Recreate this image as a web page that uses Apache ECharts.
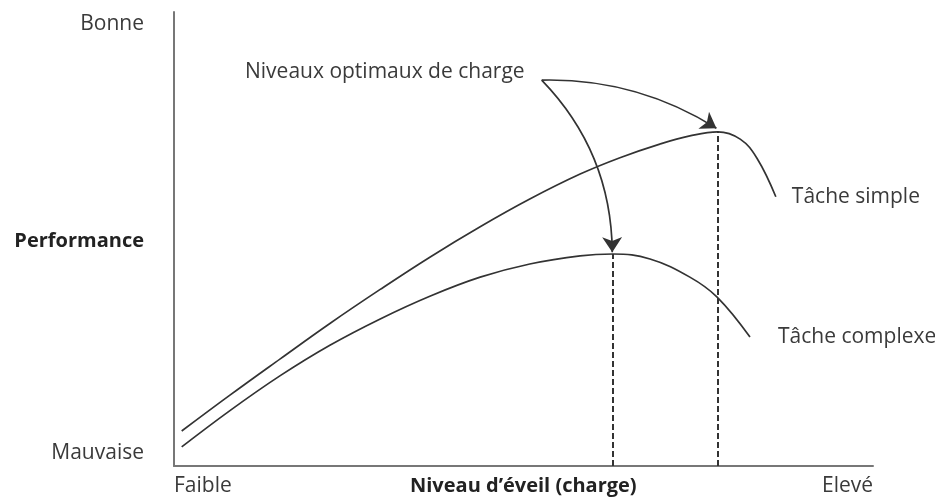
<!DOCTYPE html>
<html>
<head>
<meta charset="utf-8">
<script src="https://cdn.jsdelivr.net/npm/echarts@6/dist/echarts.min.js"></script>
<style>
  html, body { margin: 0; padding: 0; background: #fff; }
  #chart { width: 935px; height: 497px; }
</style>
</head>
<body>
<div id="chart"></div>
<script>
// courbes (x = niveau d'éveil 0-100, y = performance 0-100)
const simpleX = [1.1, 8.0, 15.2, 22.3, 29.5, 36.6, 43.8, 50.9, 58.1, 63.8, 69.5, 73.8, 77.8, 81.0, 83.4, 86.1];
const simpleY = [7.7, 15.6, 23.6, 31.4, 38.9, 46.0, 52.7, 58.8, 64.3, 67.9, 70.9, 72.7, 73.6, 72.0, 67.8, 59.3];
const complexX = [1.1, 8.0, 15.2, 22.3, 29.5, 36.6, 43.8, 50.9, 58.1, 62.8, 68.1, 73.8, 77.7, 82.4];
const complexY = [4.2, 12.2, 19.9, 26.6, 32.4, 37.4, 41.6, 44.5, 46.3, 46.7, 45.6, 41.6, 37.2, 28.4];

const seriesNames = ['Tâche simple', 'Tâche complexe'];
const yLabels = ['Bonne', 'Performance', 'Mauvaise'];
const xLabels = ['Faible', 'Niveau d’éveil (charge)', 'Elevé'];
const noteText = 'Niveaux optimaux de charge';

// flèches : départ commun près du texte, pointe sur les optimums
const arrowStart = [52.6, 85.0];
const arrowEnds = [[77.6, 74.4], [62.7, 47.1]];
const arrowCurve = [0.15, 0.2];

const font = '"Open Sans", sans-serif';
const ink = '#3a3a3a';

function zip(xs, ys) {
    return xs.map(function (x, i) { return [x, ys[i]]; });
}
// point le plus haut d'une courbe = charge optimale
function peak(xs, ys) {
    let k = 0;
    ys.forEach(function (v, i) { if (v > ys[k]) k = i; });
    return [xs[k], ys[k]];
}
const peaks = [peak(complexX, complexY), peak(simpleX, simpleY)];

const myChart = echarts.init(document.getElementById('chart'));

function label(text, x, y, align, bold) {
    return {
        type: 'text', x: x, y: y,
        style: {
            text: text, fill: bold ? '#222' : ink,
            font: (bold ? 'bold 20px ' : '21px ') + font,
            align: align, verticalAlign: 'middle'
        }
    };
}

const option = {
    animation: false,
    grid: { left: 174, right: 62, top: 12, bottom: 31 },
    xAxis: {
        type: 'value', min: 0, max: 100,
        axisLine: { show: true, lineStyle: { color: '#777', width: 2 } },
        axisTick: { show: false }, axisLabel: { show: false }, splitLine: { show: false }
    },
    yAxis: {
        type: 'value', min: 0, max: 100,
        axisLine: { show: true, lineStyle: { color: '#777', width: 2 } },
        axisTick: { show: false }, axisLabel: { show: false }, splitLine: { show: false }
    },
    series: [
        {
            name: seriesNames[0],
            type: 'line',
            smooth: 0.4,
            symbol: 'none',
            data: zip(simpleX, simpleY),
            lineStyle: { color: '#333', width: 1.7 },
            endLabel: {
                show: true, formatter: '{a}', offset: [8, 0],
                color: ink, fontSize: 21, fontFamily: font
            }
        },
        {
            name: seriesNames[1],
            type: 'line',
            smooth: 0.4,
            symbol: 'none',
            data: zip(complexX, complexY),
            lineStyle: { color: '#333', width: 1.7 },
            endLabel: {
                show: true, formatter: '{a}', offset: [20, 0],
                color: ink, fontSize: 21, fontFamily: font
            }
        },
        {
            // pointillés verticaux sous les optimums
            type: 'lines',
            coordinateSystem: 'cartesian2d',
            symbol: 'none',
            lineStyle: { color: '#333', width: 2, type: [6, 3], opacity: 1 },
            data: peaks.map(function (p) { return { coords: [[p[0], 0], p] }; })
        },
        {
            type: 'lines',
            coordinateSystem: 'cartesian2d',
            symbol: ['none', 'arrow'],
            symbolSize: [11, 15],
            lineStyle: { color: '#333', width: 1.7, opacity: 1 },
            data: arrowEnds.map(function (e, i) {
                return { coords: [arrowStart, e], lineStyle: { curveness: arrowCurve[i] } };
            })
        }
    ],
    graphic: [
        label(yLabels[0], 144, 24, 'right'),
        label(yLabels[1], 144, 241, 'right', true),
        label(yLabels[2], 144, 453, 'right'),
        label(xLabels[0], 174, 486, 'left'),
        label(xLabels[1], 410, 486, 'left', true),
        label(xLabels[2], 873, 486, 'right'),
        label(noteText, 245, 72, 'left')
    ]
};
myChart.setOption(option);
</script>
</body>
</html>
